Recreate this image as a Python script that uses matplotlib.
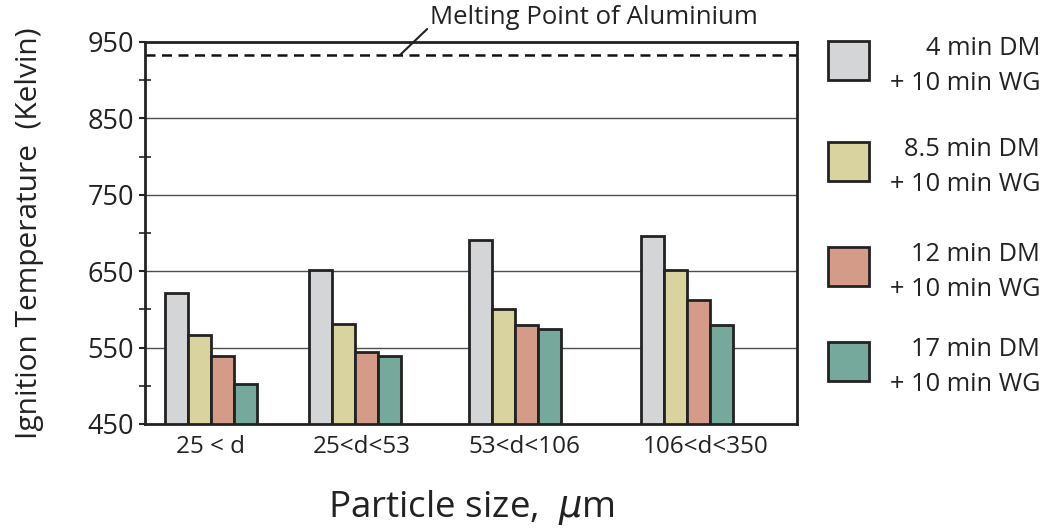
import matplotlib
matplotlib.use("Agg")
import matplotlib.pyplot as plt
from matplotlib.patches import Rectangle
from matplotlib.ticker import MultipleLocator
import numpy as np

plt.rcParams['font.family'] = ['Open Sans', 'DejaVu Sans']

# data
sizes = ['25 < d', '25<d<53', '53<d<106', '106<d<350']
series = ['4 min DM\n+ 10 min WG', '8.5 min DM\n+ 10 min WG',
          '12 min DM\n+ 10 min WG', '17 min DM\n+ 10 min WG']
dm_4 = [621, 652, 691, 696]
dm_8_5 = [566, 581, 600, 651]
dm_12 = [539, 544, 579, 612]
dm_17 = [503, 539, 575, 579]
melting_point = 933

# layout (groups are not evenly spaced in the original)
group_pos = [66, 209.5, 369.5, 542]
label_pos = [66, 217, 379, 561]
bar_w = 23
colors = ['#d4d5d7', '#d9d3a0', '#d49b89', '#74a99b']

fig = plt.figure(figsize=(10.47, 5.31), dpi=100)
ax = fig.add_axes([145 / 1047, 1 - 424 / 531, 652 / 1047, 382 / 531])

values = [dm_4, dm_8_5, dm_12, dm_17]
for k, vals in enumerate(values):
    x = np.array(group_pos) + (k - 1.5) * bar_w
    ax.bar(x, np.array(vals) - 450, bottom=450, width=bar_w, color=colors[k],
           edgecolor='#222222', linewidth=2, zorder=3)

ax.set_xlim(0, 652)
ax.set_ylim(450, 950)

# gridlines at the labelled values only
for yv in [550, 650, 750, 850]:
    ax.axhline(yv, color='#4d4d4d', lw=1, zorder=1)

ax.axhline(melting_point, color='#111111', lw=1.8, ls=(0, (4, 2.6)), zorder=2)
ax.annotate('Melting Point of Aluminium', xy=(255, melting_point),
            xytext=(285, 982), textcoords='data', annotation_clip=False,
            fontsize=18.5, color='#222222', ha='left', va='center',
            arrowprops=dict(arrowstyle='-', color='#222222', lw=1.5,
                            shrinkA=0, shrinkB=0, relpos=(0, 0.15)))

ax.set_yticks([450, 550, 650, 750, 850, 950])
ax.yaxis.set_minor_locator(MultipleLocator(50))
ax.tick_params(axis='y', which='major', direction='out', length=4, width=1.5,
               labelsize=19.5, pad=4, colors='#222222')
ax.tick_params(axis='y', which='minor', direction='inout', length=9, width=1.2,
               color='#222222')
ax.set_xticks(label_pos)
ax.set_xticklabels(sizes)
ax.tick_params(axis='x', length=0, labelsize=17.5, pad=8, colors='#222222')

for s in ax.spines.values():
    s.set_linewidth(2)
    s.set_color('#222222')

ax.set_ylabel('Ignition Temperature  (Kelvin)', fontsize=21.5, color='#222222', labelpad=31)
ax.set_xlabel('Particle size,  $\\mu$m', fontsize=26.5, color='#222222', labelpad=21)

# legend drawn by hand: box on the left, text right-aligned
legend_tops = [41, 142, 247, 342]
for k, top in enumerate(legend_tops):
    fig.add_artist(Rectangle((828 / 1047, 1 - (top + 39) / 531), 41 / 1047, 39 / 531,
                             facecolor=colors[k], edgecolor='#222222', lw=2,
                             transform=fig.transFigure))
    fig.text(1040 / 1047, 1 - (top + 25) / 531, series[k], ha='right', va='center',
             multialignment='right', fontsize=18.3, color='#222222', linespacing=1.55)

fig.savefig('out.png', dpi=100)
